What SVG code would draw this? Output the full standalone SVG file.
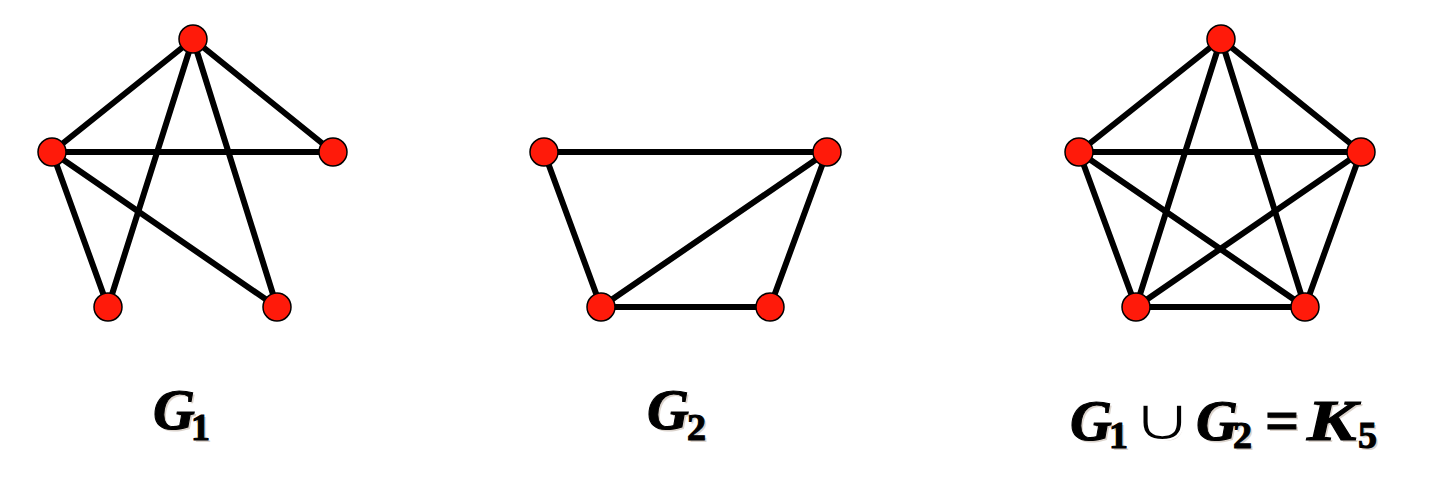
<svg xmlns="http://www.w3.org/2000/svg" width="1456" height="478" viewBox="0 0 1456 478">
<style>
.e{stroke:#000;stroke-width:6;stroke-linecap:round}
.n{fill:#FF1A0A;stroke:#000;stroke-width:1.5}
.t{font-family:"Liberation Serif","Times New Roman",serif;font-weight:bold;fill:#000;stroke:#000;stroke-width:1.1}
.i{font-style:italic;font-size:58px}
.s{font-size:38px;font-style:normal}
.sh{fill:#b0a090;stroke:none;opacity:0.45}
.u{font-family:"DejaVu Sans",sans-serif;font-weight:normal;font-style:normal}
</style>
<defs>
<g id="lab1"><text y="429"><tspan class="i" x="153">G</tspan><tspan class="s" x="191" y="440">1</tspan></text></g>
<g id="lab2"><text y="429"><tspan class="i" x="647">G</tspan><tspan class="s" x="687" y="440">2</tspan></text></g>
<g id="lab3">
<text y="440"><tspan class="i" x="1070">G</tspan><tspan class="s" x="1109" y="448">1</tspan><tspan class="i" x="1196" y="440">G</tspan><tspan class="s" x="1233" y="448">2</tspan><tspan x="1265" y="440" font-size="60">=</tspan><tspan class="s" x="1358" y="448">5</tspan></text>
<text class="i" transform="translate(1307,440) scale(1.28,1)">K</text>
<text class="u" transform="translate(1131,440) scale(1.12,0.8)" font-size="76" stroke="#fff" stroke-width="2.6">∪</text>
</g>
</defs>
<rect width="1456" height="478" fill="#fff"/>
<g id="edges">
<line class="e" x1="193" y1="39" x2="52" y2="152"/>
<line class="e" x1="193" y1="39" x2="333" y2="152"/>
<line class="e" x1="193" y1="39" x2="108" y2="307"/>
<line class="e" x1="193" y1="39" x2="277" y2="307"/>
<line class="e" x1="52" y1="152" x2="333" y2="152"/>
<line class="e" x1="52" y1="152" x2="108" y2="307"/>
<line class="e" x1="52" y1="152" x2="277" y2="307"/>
<line class="e" x1="544" y1="152" x2="827" y2="152"/>
<line class="e" x1="544" y1="152" x2="601" y2="307"/>
<line class="e" x1="827" y1="152" x2="601" y2="307"/>
<line class="e" x1="827" y1="152" x2="770" y2="307"/>
<line class="e" x1="601" y1="307" x2="770" y2="307"/>
<line class="e" x1="1221" y1="39" x2="1079" y2="152"/>
<line class="e" x1="1221" y1="39" x2="1361" y2="152"/>
<line class="e" x1="1221" y1="39" x2="1136" y2="307"/>
<line class="e" x1="1221" y1="39" x2="1305" y2="307"/>
<line class="e" x1="1079" y1="152" x2="1361" y2="152"/>
<line class="e" x1="1079" y1="152" x2="1136" y2="307"/>
<line class="e" x1="1079" y1="152" x2="1305" y2="307"/>
<line class="e" x1="1361" y1="152" x2="1136" y2="307"/>
<line class="e" x1="1361" y1="152" x2="1305" y2="307"/>
<line class="e" x1="1136" y1="307" x2="1305" y2="307"/>
</g>
<g id="G1">
<circle id="g1a" class="n" cx="193" cy="39" r="14"/>
<circle id="g1b" class="n" cx="52" cy="152" r="14"/>
<circle id="g1c" class="n" cx="333" cy="152" r="14"/>
<circle id="g1d" class="n" cx="108" cy="307" r="14"/>
<circle id="g1e" class="n" cx="277" cy="307" r="14"/>
</g>
<g id="G2">
<circle id="g2a" class="n" cx="544" cy="152" r="14"/>
<circle id="g2b" class="n" cx="827" cy="152" r="14"/>
<circle id="g2c" class="n" cx="601" cy="307" r="14"/>
<circle id="g2d" class="n" cx="770" cy="307" r="14"/>
</g>
<g id="K5">
<circle id="k5a" class="n" cx="1221" cy="39" r="14"/>
<circle id="k5b" class="n" cx="1079" cy="152" r="14"/>
<circle id="k5c" class="n" cx="1361" cy="152" r="14"/>
<circle id="k5d" class="n" cx="1136" cy="307" r="14"/>
<circle id="k5e" class="n" cx="1305" cy="307" r="14"/>
</g>
<g id="labels">
<use href="#lab1" class="t sh" x="2" y="2"/>
<use href="#lab2" class="t sh" x="2" y="2"/>
<use href="#lab3" class="t sh" x="2" y="2"/>
<use href="#lab1" class="t"/>
<use href="#lab2" class="t"/>
<use href="#lab3" class="t"/>
</g>
</svg>
